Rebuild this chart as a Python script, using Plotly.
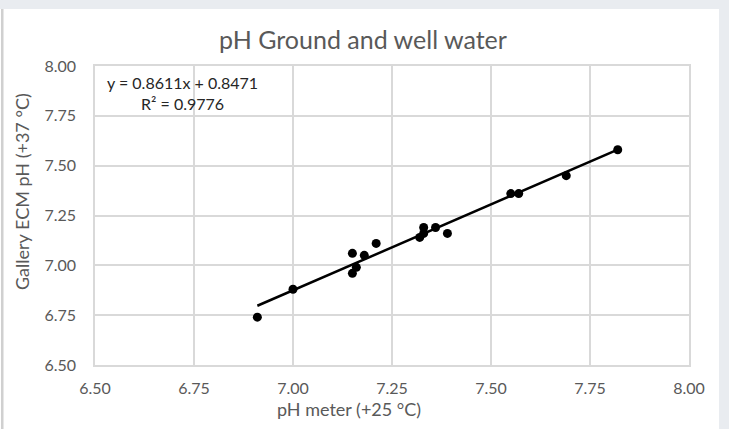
import plotly.graph_objects as go

# Data
ph_meter = [6.91, 7.00, 7.15, 7.16, 7.15, 7.18, 7.21, 7.32, 7.33, 7.33, 7.36, 7.39, 7.55, 7.57, 7.69, 7.82]
ecm_ph   = [6.74, 6.88, 6.96, 6.99, 7.06, 7.05, 7.11, 7.14, 7.16, 7.19, 7.19, 7.16, 7.36, 7.36, 7.45, 7.58]
slope = 0.8611
intercept = 0.8471
r_squared = 0.9776
x_ticks = [6.50, 6.75, 7.00, 7.25, 7.50, 7.75, 8.00]
y_ticks = [6.50, 6.75, 7.00, 7.25, 7.50, 7.75, 8.00]

W, H = 729, 429
ML, MR, MT, MB = 95, 40, 66, 64
PW, PH = W - ML - MR, H - MT - MB

def px(xp):
    return (xp - ML) / PW

def py(yp):
    return (H - MB - yp) / PH

FONT = "Lato"
GREY_TXT = "#595959"

fig = go.Figure()

x_line = [min(ph_meter), max(ph_meter)]
y_line = [slope * v + intercept for v in x_line]
fig.add_trace(go.Scatter(x=x_line, y=y_line, mode="lines",
                         line=dict(color="black", width=2.5), hoverinfo="skip",
                         showlegend=False))
fig.add_trace(go.Scatter(x=ph_meter, y=ecm_ph, mode="markers",
                         marker=dict(color="black", size=9), showlegend=False))

fig.update_layout(
    width=W, height=H,
    margin=dict(l=ML, r=MR, t=MT, b=MB),
    paper_bgcolor="#e9ecf0",
    plot_bgcolor="white",
    title=dict(text="pH Ground and well water", x=363 / W, xanchor="center",
               y=1 - 40 / H, yanchor="middle",
               font=dict(family=FONT, size=25, color=GREY_TXT)),
    showlegend=False,
    shapes=[
        dict(type="rect", xref="paper", yref="paper", layer="below",
             x0=px(0), x1=px(719), y0=py(429), y1=py(9),
             fillcolor="white", line=dict(width=0)),
        dict(type="rect", xref="paper", yref="paper", layer="below",
             x0=px(1), x1=px(3.5), y0=py(429), y1=py(9),
             fillcolor="#d0d0d0", line=dict(width=0)),
    ],
    annotations=[
        dict(text="y = 0.8611x + 0.8471<br>R² = 0.9776", xref="paper", yref="paper",
             x=px(182), y=py(93), xanchor="center", yanchor="middle", align="center",
             showarrow=False, font=dict(family=FONT, size=16, color="#262626")),
        dict(text="pH meter (+25 °C)", xref="paper", yref="paper",
             x=px(349), y=py(409), xanchor="center", yanchor="middle",
             showarrow=False, font=dict(family=FONT, size=18, color=GREY_TXT)),
        dict(text="Gallery ECM pH (+37 °C)", xref="paper", yref="paper",
             x=px(22), y=py(192), xanchor="center", yanchor="middle", textangle=-90,
             showarrow=False, font=dict(family=FONT, size=18, color=GREY_TXT)),
    ],
)

fig.update_xaxes(range=[6.5, 8.0], tickvals=x_ticks,
                 ticktext=[f"{v:.2f}" for v in x_ticks],
                 showgrid=True, gridcolor="#d9d9d9", gridwidth=1.5,
                 showline=True, linecolor="#d9d9d9", linewidth=1.5, mirror=True,
                 zeroline=False, ticks="", ticklabelstandoff=8,
                 tickfont=dict(family=FONT, size=16, color=GREY_TXT))
fig.update_yaxes(range=[6.5, 8.0], tickvals=y_ticks,
                 ticktext=[f"{v:.2f}" for v in y_ticks],
                 showgrid=True, gridcolor="#d9d9d9", gridwidth=1.5,
                 showline=True, linecolor="#d9d9d9", linewidth=1.5, mirror=True,
                 zeroline=False, ticks="", ticklabelstandoff=14,
                 tickfont=dict(family=FONT, size=16, color=GREY_TXT))

fig.write_html("out.html")
